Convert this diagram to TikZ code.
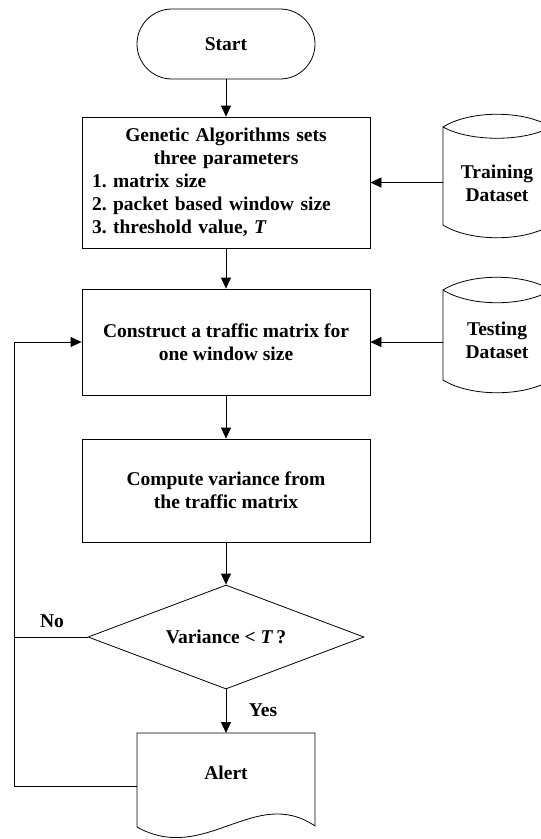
\documentclass[tikz,border=0pt]{standalone}
\usepackage{fontspec}
\setmainfont{Liberation Serif}
\usetikzlibrary{arrows.meta,shapes.geometric}
\frenchspacing
\begin{document}
\begin{tikzpicture}[x=1pt,y=-1pt,line width=0.8pt,
  txt/.style={font=\fontsize{19.5}{23}\selectfont\bfseries},
  box/.style={txt,draw,rectangle,minimum width=288pt,inner sep=0pt,align=center},
  arr/.style={-{Triangle[length=11pt,width=10pt]}}]
\useasboundingbox (0,0) rectangle (541,839);
% main column
\node[box,minimum width=178pt,minimum height=70pt,rounded corners=35pt] (start) at (226,44) {Start};
\node[box,minimum height=131pt,text width=268pt] (ga) at (226,182.5)
  {{\frenchspacing\centering Genetic Algorithms sets\\three parameters\par}%
   {\frenchspacing\raggedright 1. matrix size\\2. packet based window size\\3. threshold value, \textit{T}\par}};
\node[box,minimum height=106pt] (ctm) at (226,342) {Construct a traffic matrix for\\one window size};
\node[box,minimum height=103pt] (cv) at (226,490.5) {Compute variance from\\the traffic matrix};
\node[txt,draw,diamond,aspect=2.65,minimum width=276pt,minimum height=104pt,inner sep=0pt] (dec) at (226,637)
  {Variance < \textit{T}\,?};
% alert document
\draw (137,733) -- (315,733) -- (315,826) .. controls (255,785) and (205,865) .. (137,827) -- cycle;
\node[txt] (alert) at (226,773) {Alert};
\coordinate (alertT) at (226,733);
\coordinate (alertL) at (137,786);
\coordinate (fbB) at (14,786);
% cylinders
\draw (443,127) .. controls (470,110) and (524,110) .. (551,127)
      .. controls (524,142) and (470,142) .. (443,127) -- (443,225)
      .. controls (470,242) and (524,242) .. (551,225) -- (551,127);
\node[txt,align=center] (train) at (497,183) {Training\\Dataset};
\coordinate (trainL) at (443,182.5);
\draw (443,290) .. controls (470,273) and (524,273) .. (551,290)
      .. controls (524,307) and (470,307) .. (443,290) -- (443,380)
      .. controls (470,397) and (524,397) .. (551,380) -- (551,290);
\node[txt,align=center] (test) at (497,340) {Testing\\Dataset};
\coordinate (testL) at (443,342);
% connectors
\draw[arr] (start.south) -- (ga.north);
\draw[arr] (ga.south) -- (ctm.north);
\draw[arr] (ctm.south) -- (cv.north);
\draw[arr] (cv.south) -- (dec.north);
\draw[arr] (dec.south) -- (alertT);
\draw[arr] (trainL) -- (ga.east);
\draw[arr] (testL) -- (ctm.east);
\draw[arr] (alertL) -- (fbB) |- (ctm.west);
\draw (dec.west) -- (dec.west -| fbB);
\node[txt] (no) at (52,621) {No};
\node[txt] (yes) at (263,710) {Yes};
\end{tikzpicture}
\end{document}
